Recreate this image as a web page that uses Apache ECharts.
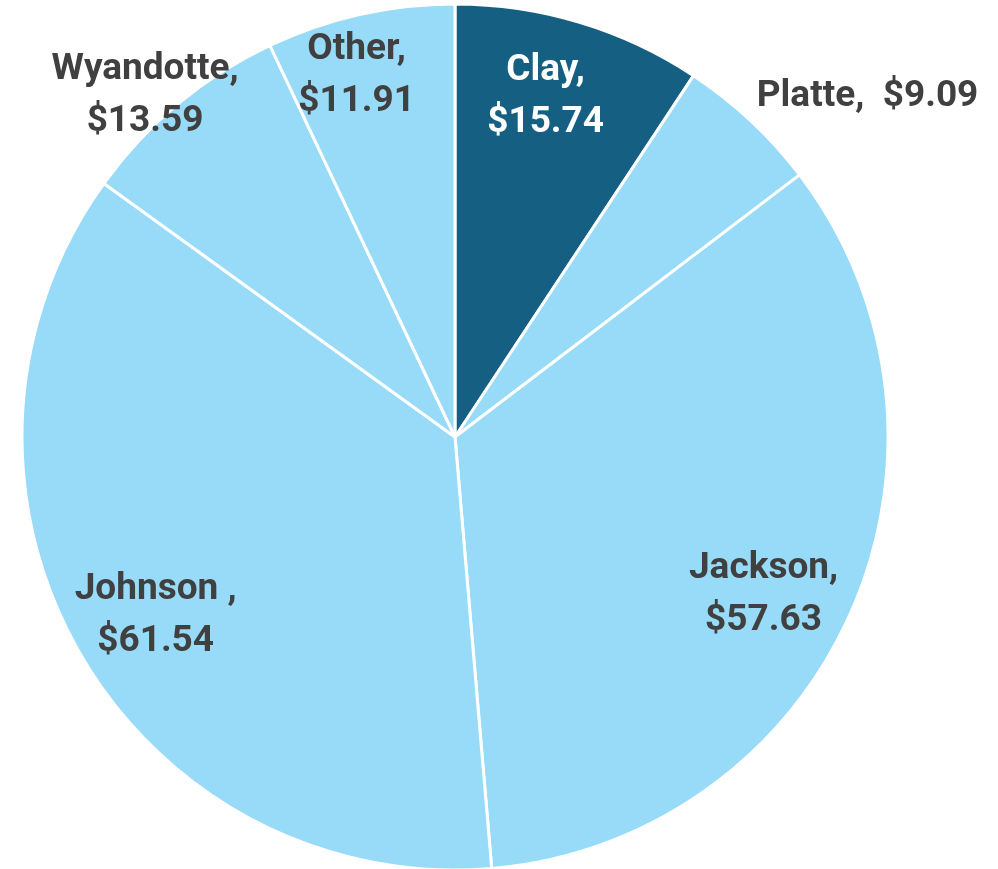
<!DOCTYPE html>
<html>
<head>
<meta charset="utf-8">
<script src="https://cdn.jsdelivr.net/npm/echarts@6/dist/echarts.min.js"></script>
<style>
  html, body { margin: 0; padding: 0; background: #fff; }
  #chart { width: 998px; height: 869px; }
</style>
</head>
<body>
<div id="chart"></div>
<script>
// 数据
var categories = ['Clay', 'Platte', 'Jackson', 'Johnson', 'Wyandotte', 'Other'];
var values = [15.74, 9.09, 57.63, 61.54, 13.59, 11.91];

(function() {
  var myChart = echarts.init(document.getElementById('chart'));

  var cx = 455, cy = 437, R = 433;
  var total = values.reduce(function(a, b) { return a + b; }, 0);

  // label placement: radius factor and angle tweak (degrees) per slice
  var labelK = [0.813, 1.235, 0.80, 0.805, 1.065, 0.864];
  var labelTweak = [-1.8, 7.4, 3.1, -1.3, -2.5, -2.6];

  // mid angle of each slice, clockwise from top
  var midAngles = [];
  var acc = 0;
  values.forEach(function(v) {
    midAngles.push((acc + v / 2) / total * 360);
    acc += v;
  });

  var pieData = categories.map(function(name, i) {
    var item = {
      name: name,
      value: values[i],
      itemStyle: { color: i === 0 ? '#156082' : '#97dbf8' }
    };
    if (i === 0) item.label = { color: '#ffffff' };
    return item;
  });

  var option = {
    animation: false,
    series: [
      {
        type: 'pie',
        center: [cx, cy],
        radius: R,
        startAngle: 90,
        clockwise: true,
        data: pieData,
        itemStyle: {
          borderColor: '#ffffff',
          borderWidth: 3
        },
        label: {
          position: 'inside',
          fontFamily: 'Roboto',
          fontWeight: 'bold',
          fontSize: 37,
          lineHeight: 52,
          color: '#404040',
          formatter: function(p) {
            var v = '$' + p.value.toFixed(2);
            if (p.name === 'Platte') return p.name + ',  ' + v;
            if (p.name === 'Johnson') return p.name + ' ,\n' + v;
            return p.name + ',\n' + v;
          }
        },
        labelLine: { show: false },
        labelLayout: function(params) {
          var i = params.dataIndex;
          var a = (midAngles[i] + labelTweak[i]) * Math.PI / 180;
          var r = R * labelK[i];
          return {
            x: cx + r * Math.sin(a),
            y: cy - r * Math.cos(a),
            align: 'center',
            verticalAlign: 'middle'
          };
        }
      }
    ]
  };

  myChart.setOption(option);
})();
</script>
</body>
</html>
